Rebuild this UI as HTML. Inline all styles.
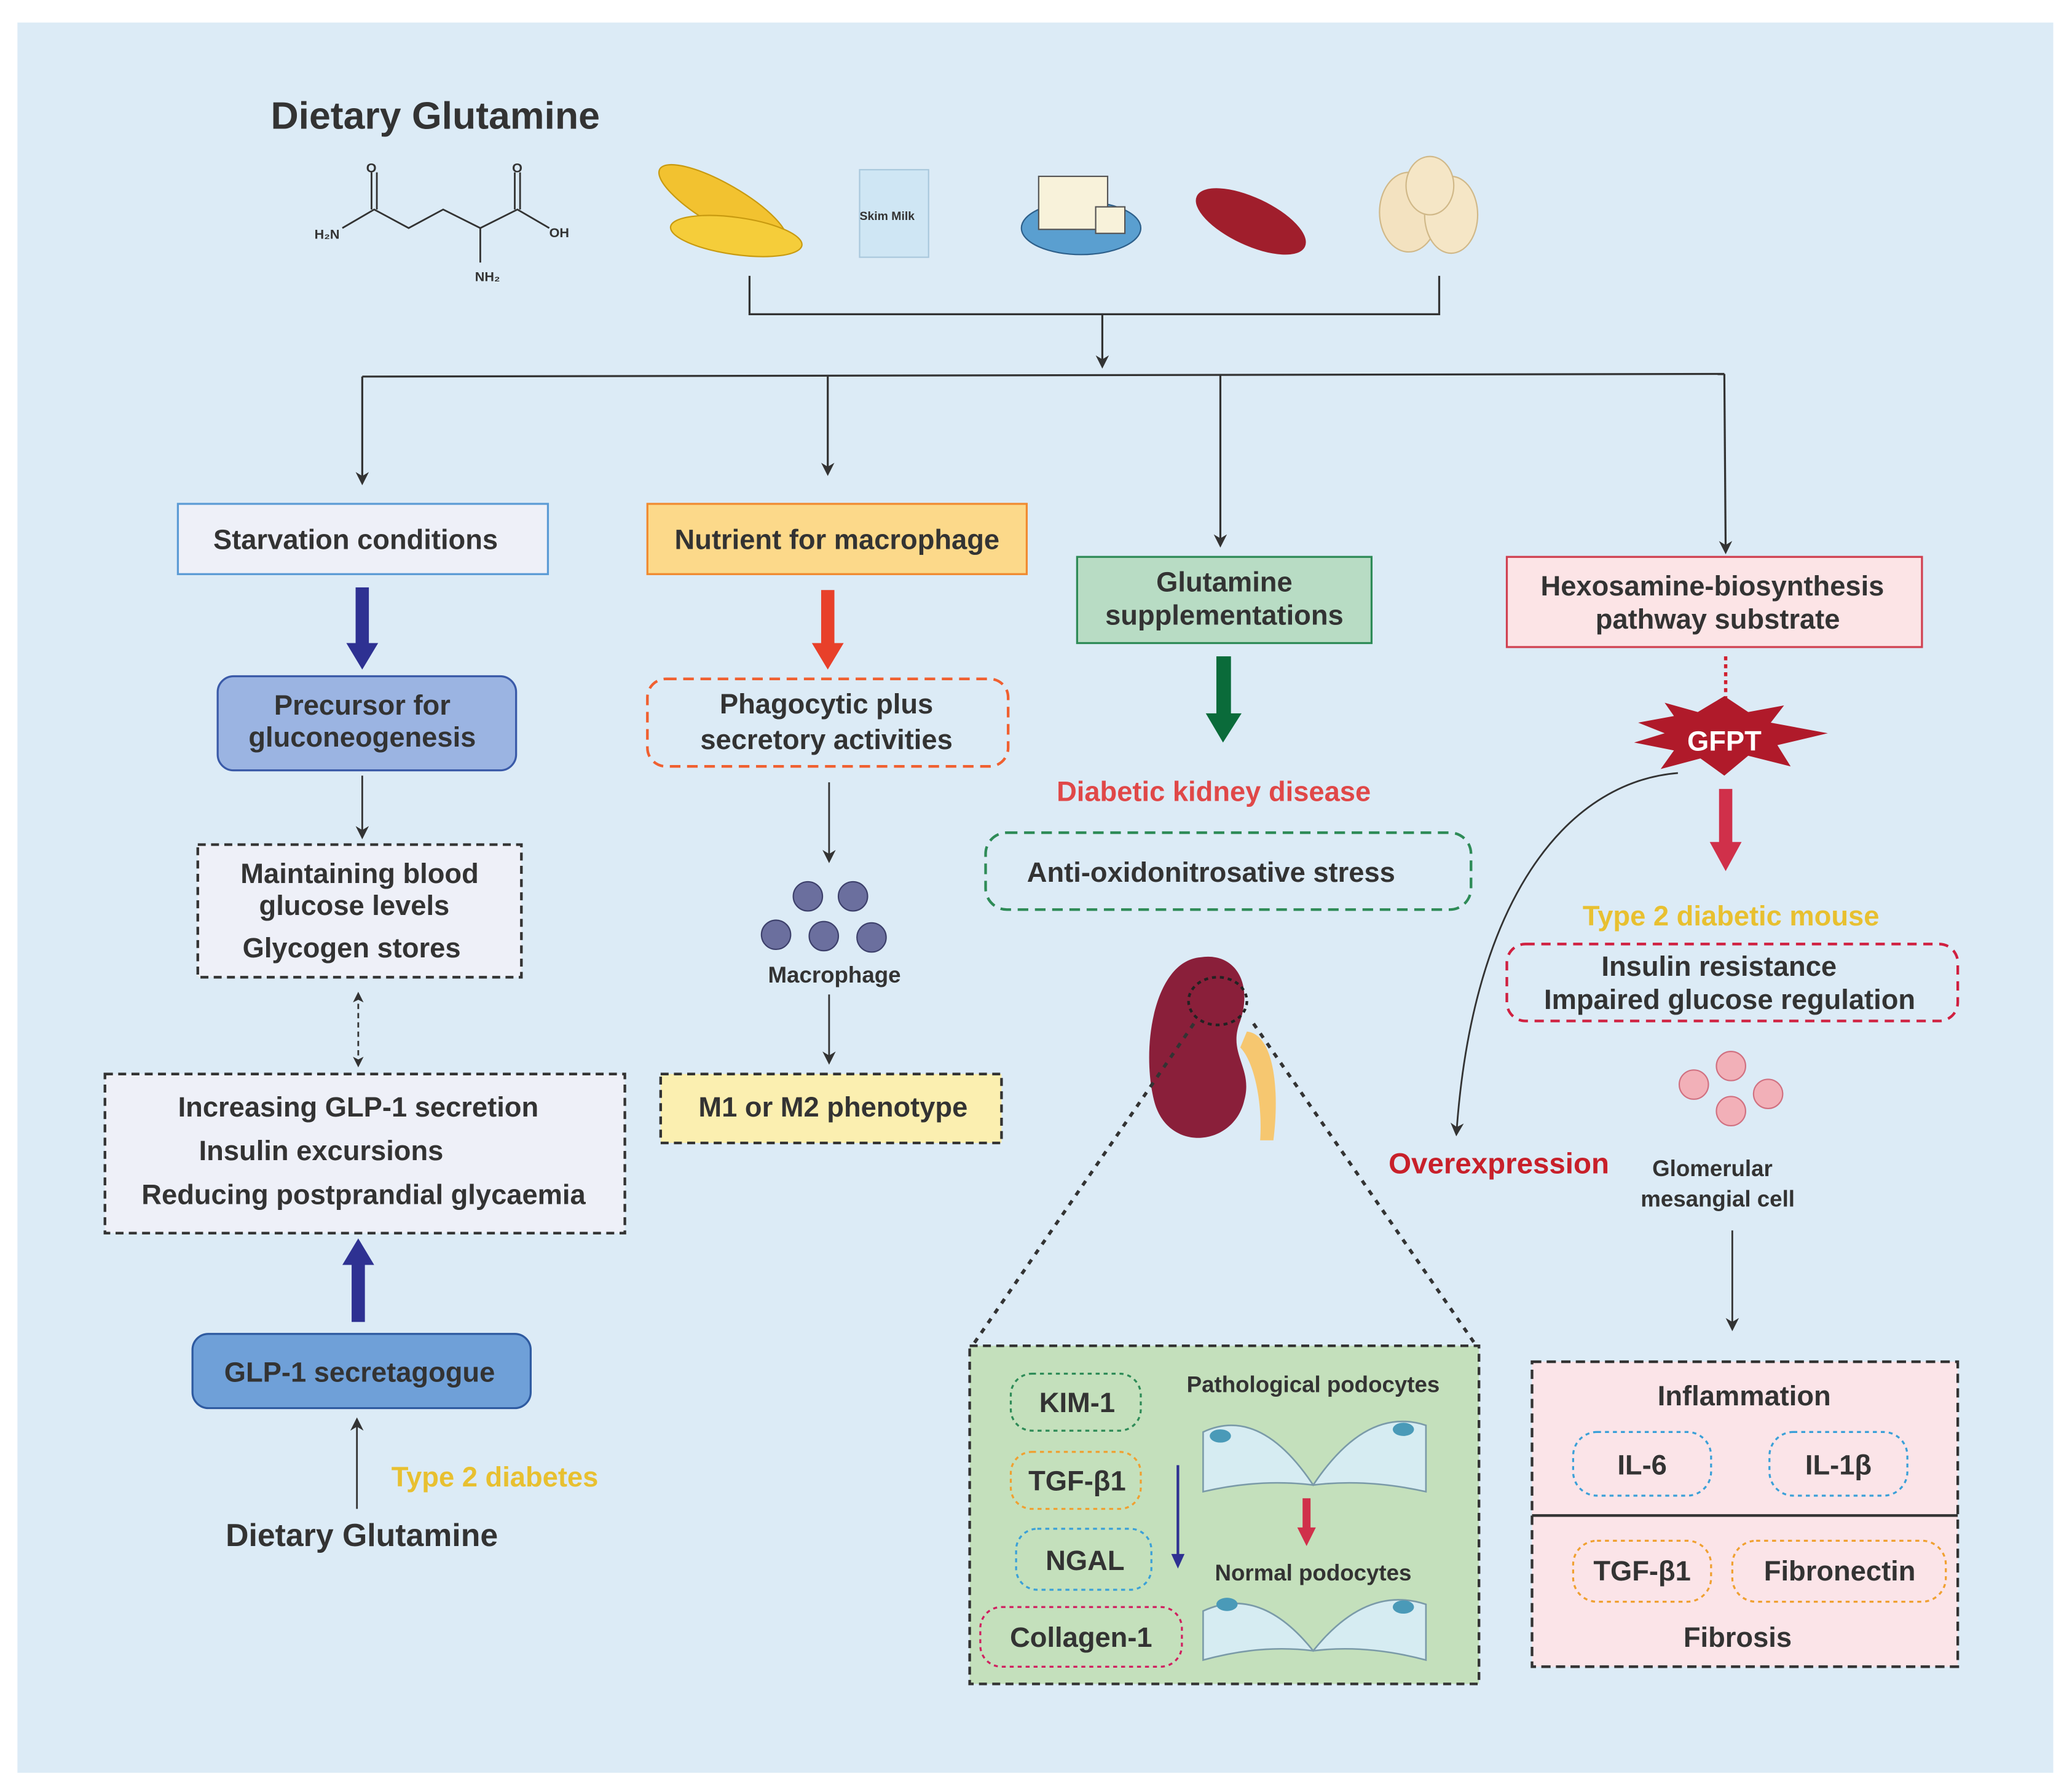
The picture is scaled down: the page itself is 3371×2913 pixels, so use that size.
<!DOCTYPE html>
<html><head><meta charset="utf-8"><style>
html,body{margin:0;padding:0;background:#fff}
svg{display:block}
text{font-family:"Liberation Sans",Arial,sans-serif;font-weight:bold;fill:#333}
</style></head><body>
<svg width="3371" height="2913" viewBox="0 0 1562 1350" xmlns="http://www.w3.org/2000/svg">
<defs>
<marker id="ah" markerWidth="10" markerHeight="10" refX="8" refY="5" orient="auto" markerUnits="userSpaceOnUse"><path d="M0,0 L10,5 L0,10 L3,5 z" fill="#333"/></marker>
<marker id="ahs" markerWidth="8" markerHeight="8" refX="6" refY="4" orient="auto-start-reverse" markerUnits="userSpaceOnUse"><path d="M0,0 L8,4 L0,8 L2,4 z" fill="#333"/></marker>
</defs>
<rect x="0" y="0" width="1562" height="1350" fill="#fff"/>
<rect x="13" y="17" width="1535" height="1320" fill="#dcebf6"/>

<text x="204" y="97" font-size="29">Dietary Glutamine</text>
<!-- glutamine structure -->
<g stroke="#333" stroke-width="1.3" fill="none">
<path d="M258,172 L282,158 L308,172 L334,158 L362,172 L390,158 L414,172"/>
<path d="M280,158 L280,130 M284,158 L284,130 M388,158 L388,130 M392,158 L392,130 M362,172 L362,198"/>
</g>
<g font-size="10" font-weight="normal"><text x="237" y="180" font-weight="normal">H₂N</text><text x="276" y="130" font-weight="normal">O</text><text x="386" y="130" font-weight="normal">O</text><text x="414" y="179" font-weight="normal">OH</text><text x="358" y="212" font-weight="normal">NH₂</text></g>
<!-- foods -->
<g>
<ellipse cx="545" cy="155" rx="55" ry="16" transform="rotate(30 545 155)" fill="#f2c230" stroke="#c89a10"/>
<ellipse cx="555" cy="178" rx="50" ry="14" transform="rotate(8 555 178)" fill="#f5cd3a" stroke="#c89a10"/>
<rect x="648" y="128" width="52" height="66" fill="#cfe6f4" stroke="#a9c8dc"/>
<text x="648" y="166" font-size="9" font-weight="normal" fill="#8aa">Skim Milk</text>
<ellipse cx="815" cy="172" rx="45" ry="20" fill="#5a9fd0" stroke="#2d5f8a"/>
<rect x="783" y="133" width="52" height="40" fill="#f8f2da" stroke="#555"/>
<rect x="826" y="156" width="22" height="20" fill="#f8f2da" stroke="#555"/>
<ellipse cx="943" cy="167" rx="45" ry="18" transform="rotate(25 943 167)" fill="#a01e2c"/>
<ellipse cx="1062" cy="160" rx="22" ry="30" fill="#f3e2c0" stroke="#d0b888"/>
<ellipse cx="1094" cy="162" rx="20" ry="29" fill="#f5e6c6" stroke="#d0b888"/>
<ellipse cx="1078" cy="140" rx="18" ry="22" fill="#f5e6c6" stroke="#d0b888"/>
</g>

<g stroke="#333" stroke-width="1.5" fill="none">
<path d="M565,208 L565,237 L1085,237 L1085,208"/>
<line x1="831" y1="237" x2="831" y2="276" marker-end="url(#ah)"/>
<path d="M273,284 L1300,282"/>
<line x1="273" y1="284" x2="273" y2="364" marker-end="url(#ah)"/>
<line x1="624" y1="284" x2="624" y2="357" marker-end="url(#ah)"/>
<line x1="920" y1="283" x2="920" y2="411" marker-end="url(#ah)"/>
<line x1="1300" y1="282" x2="1301" y2="416" marker-end="url(#ah)"/>
</g>

<!-- top boxes -->
<rect x="134" y="380" width="279" height="53" fill="#eef0f8" stroke="#5b9bd5" stroke-width="1.5"/>
<text x="268" y="414" font-size="21" text-anchor="middle">Starvation conditions</text>
<rect x="488" y="380" width="286" height="53" fill="#fcd98a" stroke="#f08a30" stroke-width="1.5"/>
<text x="631" y="414" font-size="21" text-anchor="middle">Nutrient for macrophage</text>
<rect x="812" y="420" width="222" height="65" fill="#b8dcc4" stroke="#2e8b57" stroke-width="1.5"/>
<text x="923" y="446" font-size="21" text-anchor="middle">Glutamine</text>
<text x="923" y="471" font-size="21" text-anchor="middle">supplementations</text>
<rect x="1136" y="420" width="313" height="68" fill="#fce4e6" stroke="#d04050" stroke-width="1.5"/>
<text x="1291" y="449" font-size="21" text-anchor="middle">Hexosamine-biosynthesis</text>
<text x="1295" y="474" font-size="21" text-anchor="middle">pathway substrate</text>

<!-- thick arrows -->
<g>
<rect x="268" y="443" width="10" height="44" fill="#2e3192"/><path d="M261,485 L285,485 L273,505 z" fill="#2e3192"/>
<rect x="619" y="445" width="10" height="42" fill="#e8402a"/><path d="M612,485 L636,485 L624,505 z" fill="#e8402a"/>
<rect x="917" y="495" width="11" height="45" fill="#0a6b3a"/><path d="M909,538 L936,538 L922,560 z" fill="#0a6b3a"/>
<rect x="1296" y="595" width="10" height="42" fill="#d0304a"/><path d="M1289,635 L1313,635 L1301,657 z" fill="#d0304a"/>
<rect x="265" y="952" width="10" height="45" fill="#2e3192"/><path d="M258,954 L282,954 L270,934 z" fill="#2e3192"/>
</g>

<!-- left column -->
<rect x="164" y="510" width="225" height="71" rx="12" fill="#9bb4e2" stroke="#3a5aa8" stroke-width="1.5"/>
<text x="273" y="539" font-size="21" text-anchor="middle">Precursor for</text>
<text x="273" y="563" font-size="21" text-anchor="middle">gluconeogenesis</text>
<g stroke="#333" stroke-width="1.3" fill="none">
<line x1="273" y1="585" x2="273" y2="631" marker-end="url(#ah)"/>
<line x1="270" y1="750" x2="270" y2="803" stroke-dasharray="4,3" marker-start="url(#ahs)" marker-end="url(#ahs)"/>
<line x1="269" y1="1138" x2="269" y2="1071" marker-end="url(#ah)"/>
<line x1="625" y1="590" x2="625" y2="649" marker-end="url(#ah)"/>
<line x1="625" y1="750" x2="625" y2="801" marker-end="url(#ah)"/>
<line x1="1306" y1="928" x2="1306" y2="1002" marker-end="url(#ah)"/>
</g>
<rect x="149" y="637" width="244" height="100" fill="#eef0f8" stroke="#333" stroke-width="2" stroke-dasharray="6,4"/>
<text x="271" y="666" font-size="21" text-anchor="middle">Maintaining blood</text>
<text x="267" y="690" font-size="21" text-anchor="middle">glucose levels</text>
<text x="265" y="722" font-size="21" text-anchor="middle">Glycogen stores</text>
<rect x="79" y="810" width="392" height="120" fill="#eef0f8" stroke="#333" stroke-width="2" stroke-dasharray="6,4"/>
<text x="270" y="842" font-size="21" text-anchor="middle">Increasing GLP-1 secretion</text>
<text x="242" y="875" font-size="21" text-anchor="middle">Insulin excursions</text>
<text x="274" y="908" font-size="21" text-anchor="middle">Reducing postprandial glycaemia</text>
<rect x="145" y="1006" width="255" height="56" rx="12" fill="#6fa0d8" stroke="#2e5aa0" stroke-width="1.5"/>
<text x="271" y="1042" font-size="21" text-anchor="middle">GLP-1 secretagogue</text>
<text x="295" y="1121" font-size="21" fill="#e8c030" style="fill:#e8c030">Type 2 diabetes</text>
<text x="170" y="1166" font-size="24">Dietary Glutamine</text>

<!-- macrophage column -->
<rect x="488" y="512" width="272" height="66" rx="14" fill="none" stroke="#f06030" stroke-width="2" stroke-dasharray="8,5"/>
<text x="623" y="538" font-size="21" text-anchor="middle">Phagocytic plus</text>
<text x="623" y="565" font-size="21" text-anchor="middle">secretory activities</text>
<g fill="#6b6f9e" stroke="#3c3f6a">
<circle cx="609" cy="676" r="11"/><circle cx="643" cy="676" r="11"/><circle cx="585" cy="705" r="11"/><circle cx="621" cy="706" r="11"/><circle cx="657" cy="707" r="11"/>
</g>
<text x="629" y="741" font-size="17" text-anchor="middle">Macrophage</text>
<rect x="498" y="810" width="257" height="52" fill="#fbefb0" stroke="#333" stroke-width="2" stroke-dasharray="6,4"/>
<text x="628" y="842" font-size="21" text-anchor="middle">M1 or M2 phenotype</text>

<!-- middle -->
<text x="915" y="604" font-size="21" text-anchor="middle" style="fill:#e04848">Diabetic kidney disease</text>
<rect x="743" y="628" width="366" height="58" rx="16" fill="none" stroke="#2e8b57" stroke-width="2" stroke-dasharray="8,5"/>
<text x="913" y="665" font-size="21" text-anchor="middle">Anti-oxidonitrosative stress</text>
<path d="M940,778 C960,780 965,820 960,860 L950,860 C952,830 945,800 935,790 z" fill="#f6c770"/>
<path d="M905,722 C870,725 860,790 870,830 C880,870 930,865 938,830 C945,805 925,795 935,770 C945,740 930,718 905,722 z" fill="#8a1f3a"/>
<ellipse cx="918" cy="755" rx="22" ry="18" fill="none" stroke="#222" stroke-width="2" stroke-dasharray="3,3"/>
<g stroke="#333" stroke-width="2.5" stroke-dasharray="4,5"><line x1="900" y1="772" x2="733" y2="1015"/><line x1="945" y1="772" x2="1113" y2="1015"/></g>
<rect x="731" y="1015" width="384" height="255" fill="#c4e0bc" stroke="#333" stroke-width="2" stroke-dasharray="6,4"/>
<g fill="none" stroke-width="1.5" stroke-dasharray="3,3">
<rect x="762" y="1036" width="98" height="43" rx="16" stroke="#2e8b57"/>
<rect x="762" y="1095" width="98" height="43" rx="16" stroke="#f0a030"/>
<rect x="766" y="1153" width="102" height="46" rx="16" stroke="#3aa0d8"/>
<rect x="739" y="1212" width="152" height="45" rx="16" stroke="#d02060"/>
</g>
<text x="812" y="1065" font-size="21" text-anchor="middle">KIM-1</text>
<text x="812" y="1124" font-size="21" text-anchor="middle">TGF-β1</text>
<text x="818" y="1184" font-size="21" text-anchor="middle">NGAL</text>
<text x="815" y="1242" font-size="21" text-anchor="middle">Collagen-1</text>
<text x="990" y="1050" font-size="17" text-anchor="middle">Pathological podocytes</text>
<text x="990" y="1192" font-size="17" text-anchor="middle">Normal podocytes</text>
<g fill="#d6ecf2" stroke="#7a9aa8" stroke-width="1.2">
<path d="M907,1080 Q950,1060 990,1120 Q1030,1060 1075,1075 L1075,1125 Q1030,1115 990,1120 Q950,1115 907,1125 z"/>
<path d="M907,1215 Q950,1195 990,1245 Q1030,1195 1075,1210 L1075,1252 Q1030,1240 990,1245 Q950,1240 907,1252 z"/>
</g>
<g fill="#4a9ab8"><ellipse cx="920" cy="1083" rx="8" ry="5"/><ellipse cx="1058" cy="1078" rx="8" ry="5"/><ellipse cx="925" cy="1210" rx="8" ry="5"/><ellipse cx="1058" cy="1212" rx="8" ry="5"/></g>
<line x1="888" y1="1105" x2="888" y2="1175" stroke="#2e3192" stroke-width="2"/><path d="M883,1172 L893,1172 L888,1183 z" fill="#2e3192"/>
<rect x="982" y="1130" width="6" height="24" fill="#d0304a"/><path d="M978,1152 L992,1152 L985,1166 z" fill="#d0304a"/>

<!-- right column -->
<line x1="1301" y1="495" x2="1301" y2="532" stroke="#d02030" stroke-width="2.5" stroke-dasharray="3,3"/>
<path d="M1235,545 L1262,540 L1255,530 L1280,537 L1300,525 L1318,537 L1345,532 L1335,545 L1378,553 L1340,562 L1350,578 L1318,570 L1300,585 L1282,572 L1252,580 L1262,566 L1232,560 L1255,553 z" fill="#b01a2a"/>
<text x="1300" y="566" font-size="21" text-anchor="middle" style="fill:#fff">GFPT</text>
<path d="M1265,583 C1180,590 1110,680 1098,855" fill="none" stroke="#333" stroke-width="1.3" marker-end="url(#ah)"/>
<text x="1305" y="698" font-size="21" text-anchor="middle" style="fill:#e8c030">Type 2 diabetic mouse</text>
<rect x="1136" y="712" width="340" height="58" rx="14" fill="none" stroke="#d02040" stroke-width="2" stroke-dasharray="7,5"/>
<text x="1296" y="736" font-size="21" text-anchor="middle">Insulin resistance</text>
<text x="1304" y="761" font-size="21" text-anchor="middle">Impaired glucose regulation</text>
<g fill="#f2b0b8" stroke="#d07080"><circle cx="1277" cy="818" r="11"/><circle cx="1305" cy="804" r="11"/><circle cx="1333" cy="825" r="11"/><circle cx="1305" cy="838" r="11"/></g>
<text x="1130" y="885" font-size="22" text-anchor="middle" style="fill:#c8202a">Overexpression</text>
<text x="1291" y="887" font-size="17" text-anchor="middle">Glomerular</text>
<text x="1295" y="910" font-size="17" text-anchor="middle">mesangial cell</text>
<rect x="1155" y="1027" width="321" height="230" fill="#fbe4e8" stroke="#333" stroke-width="2" stroke-dasharray="7,4"/>
<line x1="1155" y1="1143" x2="1476" y2="1143" stroke="#333" stroke-width="2"/>
<text x="1315" y="1060" font-size="21" text-anchor="middle">Inflammation</text>
<text x="1310" y="1242" font-size="21" text-anchor="middle">Fibrosis</text>
<g fill="none" stroke-width="1.5" stroke-dasharray="3,3">
<rect x="1186" y="1080" width="104" height="48" rx="18" stroke="#3aa0d8"/>
<rect x="1334" y="1080" width="104" height="48" rx="18" stroke="#3aa0d8"/>
<rect x="1186" y="1162" width="104" height="46" rx="18" stroke="#f0a030"/>
<rect x="1306" y="1162" width="161" height="46" rx="18" stroke="#f0a030"/>
</g>
<text x="1238" y="1112" font-size="21" text-anchor="middle">IL-6</text>
<text x="1386" y="1112" font-size="21" text-anchor="middle">IL-1β</text>
<text x="1238" y="1192" font-size="21" text-anchor="middle">TGF-β1</text>
<text x="1387" y="1192" font-size="21" text-anchor="middle">Fibronectin</text>
</svg>
</body></html>
